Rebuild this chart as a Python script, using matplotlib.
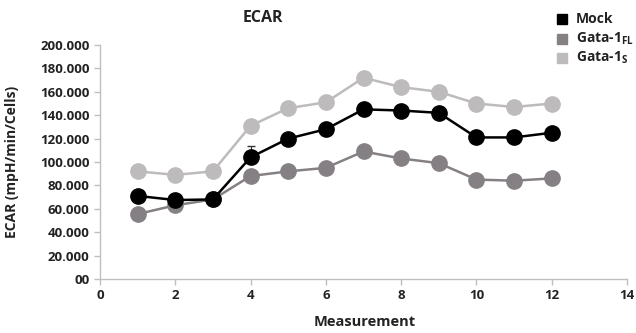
import matplotlib
matplotlib.use("Agg")
import matplotlib.pyplot as plt

measurement = [1, 2, 3, 4, 5, 6, 7, 8, 9, 10, 11, 12]
mock = [71, 67.5, 68, 104, 120, 128, 145, 144, 142, 121, 121, 125]
mock_err = [0, 0, 0, 10, 0, 0, 0, 0, 0, 0, 0, 0]
gata_fl = [55.5, 63, 68, 88, 92, 95, 109, 103, 99, 85, 84, 86]
gata_s = [92, 89, 92, 131, 146, 151, 172, 164, 160, 150, 147, 150]

yticks = [0, 20, 40, 60, 80, 100, 120, 140, 160, 180, 200]
yticklabels = ["00", "20.000", "40.000", "60.000", "80.000", "100.000",
               "120.000", "140.000", "160.000", "180.000", "200.000"]
xticks = [0, 2, 4, 6, 8, 10, 12, 14]

plt.rcParams['font.family'] = ['Open Sans', 'DejaVu Sans']
plt.rcParams['mathtext.fontset'] = 'custom'
plt.rcParams['mathtext.bf'] = 'Open Sans:bold'
plt.rcParams['mathtext.rm'] = 'Open Sans:bold'

fig = plt.figure(figsize=(6.36, 3.33), dpi=100)
ax = fig.add_axes([100/636, 1 - 279/333, 527/636, 234/333])

c_mock = "#000000"
c_fl = "#858083"
c_s = "#bdbbbc"

ax.plot(measurement, gata_s, color=c_s, lw=1.8, marker='o', ms=11, zorder=2)
ax.plot(measurement, gata_fl, color=c_fl, lw=1.8, marker='o', ms=11, zorder=3)
ax.errorbar(measurement, mock, yerr=[[0]*12, mock_err], color=c_mock, lw=1.8,
            marker='o', ms=11, capsize=3, elinewidth=0.8, ecolor="#333333", zorder=4)

ax.set_xlim(0, 14)
ax.set_ylim(0, 200)
ax.set_xticks(xticks)
ax.set_yticks(yticks)
ax.set_yticklabels(yticklabels)
for s in ['top', 'right']:
    ax.spines[s].set_visible(False)
for s in ['left', 'bottom']:
    ax.spines[s].set_color("#bfbfbf")
    ax.spines[s].set_linewidth(1.0)
ax.tick_params(axis='both', colors="#bfbfbf", length=4, width=1.0,
               labelcolor="#222222", labelsize=9.5)
for lab in ax.get_xticklabels() + ax.get_yticklabels():
    lab.set_fontweight('bold')

fig.text(263/636, 1 - 18/333, "ECAR", ha='center', va='center',
         fontsize=11.5, fontweight='bold', color="#222222")
fig.text(365/636, 1 - 322/333, "Measurement", ha='center', va='center',
         fontsize=10.5, fontweight='bold', color="#222222")
fig.text(12/636, 1 - 162/333, "ECAR (mpH/min/Cells)", ha='center', va='center',
         rotation=90, fontsize=10, fontweight='bold', color="#222222")

leg_items = [("Mock", c_mock), ("Gata-1$_{\\mathbf{FL}}$", c_fl), ("Gata-1$_{\\mathbf{S}}$", c_s)]
for i, (lab, col) in enumerate(leg_items):
    y = 1 - (19 + i * 19.5) / 333
    fig.patches.append(plt.Rectangle((557/636, y - 5/333), 10/636, 10/333,
                                     transform=fig.transFigure, color=col))
    fig.text(576/636, y, lab, ha='left', va='center', fontsize=10,
             fontweight='bold', color="#222222")

fig.savefig("out.png", dpi=100)
